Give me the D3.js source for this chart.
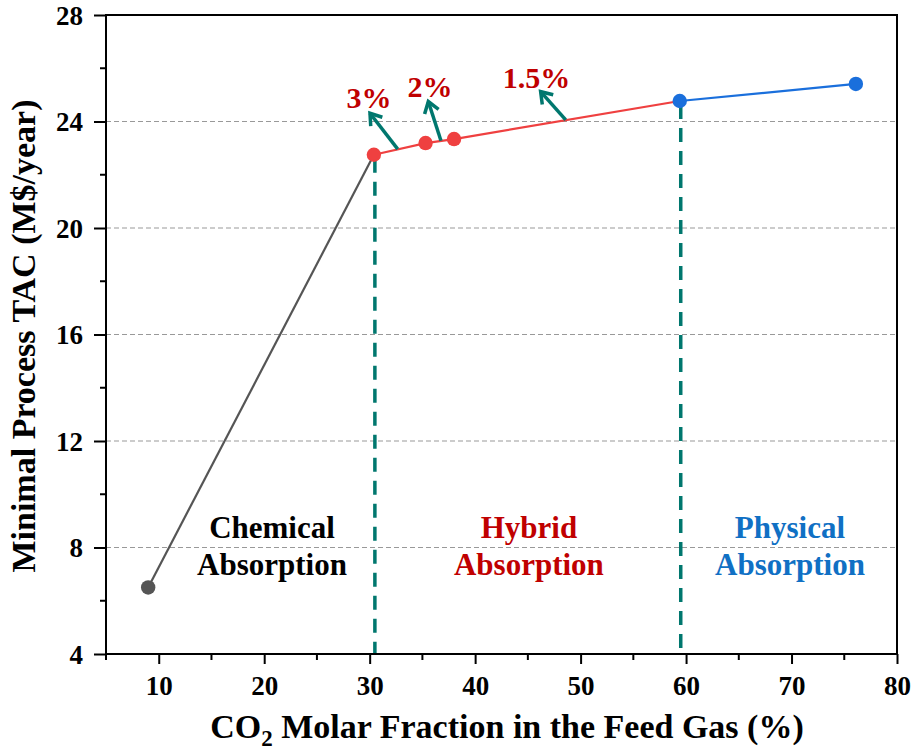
<!DOCTYPE html>
<html><head><meta charset="utf-8">
<script src="https://cdn.jsdelivr.net/npm/d3@7"></script>
<style>body{margin:0;background:#fff}svg{display:block}text{font-family:"Liberation Serif","Times New Roman",serif;font-weight:bold}</style>
</head><body><svg id="c" width="917" height="752"></svg>
<script>
// ---- data ----
const chemX = [9.0, 30.4];
const chemY = [6.5, 22.75];
const hybX = [30.4, 35.3, 38.0, 59.4];
const hybY = [22.75, 23.19, 23.34, 24.77];
const physX = [59.4, 76.1];
const physY = [24.77, 25.41];
const boundaryX = [30.4, 59.4];
const boundaryY = [22.75, 24.77];
const xTicks = [10, 20, 30, 40, 50, 60, 70, 80];
const yTicks = [4, 8, 12, 16, 20, 24, 28];
const gridY = [8, 12, 16, 20, 24];
const pctLabels = ["3%", "2%", "1.5%"];
const pctLabelX = [29.94, 35.72, 45.82];
const pctLabelY = [24.51, 24.92, 25.26];
const arrowFromX = [32.66, 36.76, 48.59];
const arrowFromY = [22.96, 23.28, 24.06];
const arrowToX = [30.03, 35.56, 46.21];
const arrowToY = [24.31, 24.75, 25.12];
const regionLine1 = ["Chemical", "Hybrid", "Physical"];
const regionLine2 = ["Absorption", "Absorption", "Absorption"];
const regionX = [20.74, 45.1, 69.85];
const regionY1 = [8.36, 8.36, 8.36];
const regionY2 = [6.97, 6.97, 6.97];

const svg = d3.select("#c");
const L = 106, R = 897, T = 15, B = 654;
const x = d3.scaleLinear().domain([5, 80]).range([L, R]);
const y = d3.scaleLinear().domain([4, 28]).range([B, T]);

const teal = "#00776e", dred = "#c00000", red = "#ef4040", blue = "#1a6fdc", gray = "#555555", pblue = "#1070c4";

// grid
svg.append("g").selectAll("line").data(gridY).join("line")
  .attr("x1", L).attr("x2", R).attr("y1", d => y(d)).attr("y2", d => y(d))
  .attr("stroke", "#999").attr("stroke-width", 1).attr("stroke-dasharray", "5,3");

// dashed boundaries
svg.append("g").selectAll("line").data(boundaryX).join("line")
  .attr("x1", d => x(d) + 1).attr("x2", d => x(d) + 1)
  .attr("y1", (d, i) => y(boundaryY[i]) + 4).attr("y2", B)
  .attr("stroke", teal).attr("stroke-width", 3.5).attr("stroke-dasharray", "14,9");

// lines
const line = d3.line().x(d => x(d[0])).y(d => y(d[1]));
function series(xs, ys, color) {
  const pts = xs.map((v, i) => [v, ys[i]]);
  svg.append("path").attr("d", line(pts)).attr("fill", "none").attr("stroke", color).attr("stroke-width", 2.2);
  return pts;
}
const cp = series(chemX, chemY, gray);
const hp = series(hybX, hybY, red);
const pp = series(physX, physY, blue);
function dots(pts, color) {
  svg.append("g").selectAll("circle").data(pts).join("circle")
    .attr("cx", d => x(d[0])).attr("cy", d => y(d[1])).attr("r", 7.2).attr("fill", color);
}
dots([cp[0]], gray);
dots(hp.slice(0, 3), red);
dots(pp, blue);

// arrows
pctLabels.forEach((lab, i) => {
  const x1 = x(arrowFromX[i]), y1 = y(arrowFromY[i]), x2 = x(arrowToX[i]), y2 = y(arrowToY[i]);
  const g = svg.append("g").attr("stroke", teal).attr("stroke-width", 3.5).attr("fill", "none").attr("stroke-linecap", "butt");
  g.append("line").attr("x1", x1).attr("y1", y1).attr("x2", x2).attr("y2", y2);
  const ang = Math.atan2(y2 - y1, x2 - x1), hl = 13, ha = 0.6;
  const p1 = [x2 - hl * Math.cos(ang - ha), y2 - hl * Math.sin(ang - ha)];
  const p2 = [x2 - hl * Math.cos(ang + ha), y2 - hl * Math.sin(ang + ha)];
  g.append("path").attr("d", `M${p1[0]},${p1[1]}L${x2},${y2}L${p2[0]},${p2[1]}`).attr("stroke-linejoin", "miter");
  svg.append("text").attr("x", x(pctLabelX[i])).attr("y", y(pctLabelY[i]))
    .attr("text-anchor", "middle").attr("font-size", 30).attr("fill", dred).text(lab);
});

// region labels
const rc = ["#000", dred, pblue];
regionLine1.forEach((t, i) => {
  svg.append("text").attr("x", x(regionX[i])).attr("y", y(regionY1[i])).attr("text-anchor", "middle")
    .attr("font-size", 31).attr("fill", rc[i]).text(t);
  svg.append("text").attr("x", x(regionX[i])).attr("y", y(regionY2[i])).attr("text-anchor", "middle")
    .attr("font-size", 31).attr("fill", rc[i]).text(regionLine2[i]);
});

// axes
const minorX = d3.range(5, 81, 5).filter(v => !xTicks.includes(v));
const minorY = d3.range(6, 28, 4);
const ax = svg.append("g").attr("transform", `translate(0,${B})`)
  .call(d3.axisBottom(x).tickValues(xTicks).tickSize(10).tickPadding(12).tickFormat(d3.format("d")));
ax.append("g").selectAll("line").data(minorX).join("line")
  .attr("x1", d => x(d)).attr("x2", d => x(d)).attr("y1", 0).attr("y2", 6).attr("stroke", "#000").attr("stroke-width", 2);
const ay = svg.append("g").attr("transform", `translate(${L},0)`)
  .call(d3.axisLeft(y).tickValues(yTicks).tickSize(12).tickPadding(11).tickFormat(d3.format("d")));
ay.append("g").selectAll("line").data(minorY).join("line")
  .attr("y1", d => y(d)).attr("y2", d => y(d)).attr("x1", 0).attr("x2", -6).attr("stroke", "#000").attr("stroke-width", 2);
[ax, ay].forEach(a => {
  a.select(".domain").remove();
  a.selectAll(".tick line").attr("stroke", "#000").attr("stroke-width", 2);
  a.selectAll(".tick text").attr("font-size", 27).attr("fill", "#000")
    .attr("font-family", "'Liberation Serif','Times New Roman',serif").attr("font-weight", "bold");
});
ax.selectAll(".tick text").attr("dy", "0.71em");
ay.selectAll(".tick text").attr("dy", "0.34em");
// frame
svg.append("rect").attr("x", L).attr("y", T).attr("width", R - L).attr("height", B - T)
  .attr("fill", "none").attr("stroke", "#000").attr("stroke-width", 2);

// titles
const xt = svg.append("text").attr("x", 507).attr("y", 738).attr("text-anchor", "middle").attr("font-size", 34);
xt.append("tspan").text("CO");
xt.append("tspan").attr("font-size", 23).attr("dy", 8).text("2");
xt.append("tspan").attr("dy", -8).text(" Molar Fraction in the Feed Gas (%)");
svg.append("text").attr("transform", `translate(35,336) rotate(-90)`).attr("text-anchor", "middle")
  .attr("font-size", 34).text("Minimal Process TAC (M$/year)");
</script></body></html>
